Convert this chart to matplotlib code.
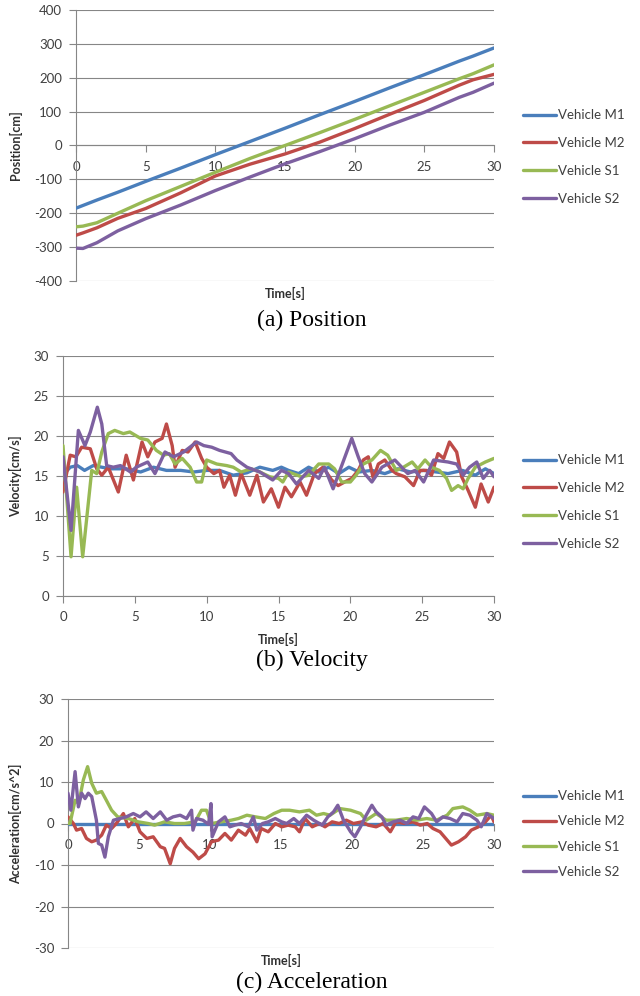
import matplotlib
matplotlib.use("Agg")
import matplotlib.pyplot as plt

plt.rcParams["axes.unicode_minus"] = False

# ---- data ----
names = ["Vehicle M1", "Vehicle M2", "Vehicle S1", "Vehicle S2"]
colors = ["#4a7ebb", "#be4b48", "#98b954", "#7d60a0"]

# (a) position [cm]
pos_t = [0, 0.5, 1.5, 3, 5, 7.5, 10, 12.5, 15, 17.5, 20, 22.5, 25, 27.5, 28.5, 30]
pos_m1 = [-185, -177, -161, -138, -106, -67, -27, 12, 51, 91, 130, 170, 209, 249, 264, 288]
pos_m2 = [-265, -258, -243, -215, -186, -140, -90, -55, -25, 10, 50, 92, 133, 178, 194, 210]
pos_s1 = [-240, -238, -228, -200, -163, -121, -79, -38, 0, 38, 77, 117, 157, 197, 212, 238]
pos_s2 = [-303, -304, -287, -252, -216, -176, -133, -93, -54, -18, 20, 60, 98, 142, 157, 184]

# (b) velocity [cm/s]
vel_m1_t = [0, 0.15, 0.5, 1.0, 1.5, 2.1, 3.3, 4.4, 5.4, 6.3,
            7.2, 8.2, 9.1, 10.0, 10.9, 11.85, 12.8, 13.7, 14.6, 15.2,
            15.7, 16.4, 17.1, 17.8, 18.5, 19.2, 19.9, 20.6, 21.5, 22.4,
            23.3, 24.2, 25.1, 26.0, 26.8, 27.8, 28.7, 29.4, 30]
vel_m1 = [17.4, 15.4, 16.1, 16.3, 15.7, 16.3, 15.9, 15.9, 15.5, 16.1,
          15.7, 15.7, 15.5, 15.7, 15.7, 15.1, 15.4, 16.1, 15.7, 16.1,
          15.7, 15.3, 16.1, 15.5, 16.1, 15.3, 16.1, 15.5, 15.7, 15.3,
          15.9, 15.5, 15.7, 15.5, 15.3, 15.7, 15.1, 15.9, 15.3]

vel_m2_t = [0, 0.5, 0.9, 1.3, 1.9, 2.35, 2.7, 3.15, 3.85, 4.4,
            4.9, 5.5, 5.9, 6.4, 6.9, 7.2, 7.6, 7.8, 8.3, 8.7,
            9.2, 9.65, 10.0, 10.5, 10.9, 11.2, 11.6, 12.0, 12.4, 13.0,
            13.5, 13.95, 14.5, 15.0, 15.45, 15.9, 16.5, 16.95, 17.5, 18.1,
            18.7, 19.15, 19.6, 20.1, 20.55, 20.9, 21.25, 21.6, 21.95, 22.4,
            22.9, 23.2, 23.8, 24.4, 24.85, 25.3, 25.65, 26.1, 26.5, 26.9,
            27.4, 27.75, 28.2, 28.7, 29.1, 29.6, 30]
vel_m2 = [13.0, 17.6, 17.4, 18.6, 18.4, 15.9, 15.1, 16.1, 13.0, 17.6,
          14.5, 19.25, 17.4, 19.25, 19.7, 21.5, 18.8, 16.1, 18.2, 18.0,
          19.25, 17.2, 16.1, 15.3, 15.7, 13.6, 15.1, 12.6, 15.3, 12.6,
          15.1, 11.75, 13.4, 11.1, 13.6, 12.4, 14.25, 12.6, 15.3, 16.1,
          14.5, 13.8, 14.25, 14.7, 15.7, 17.0, 17.4, 14.7, 16.5, 17.0,
          15.7, 15.3, 14.9, 13.8, 15.7, 15.7, 15.1, 17.8, 17.2, 19.25,
          18.0, 14.9, 13.2, 11.1, 14.0, 11.75, 13.6]

vel_s1_t = [0, 0.56, 0.95, 1.37, 2.0, 2.35, 2.7, 3.15, 3.6, 4.2,
            4.65, 5.4, 5.9, 6.5, 7.0, 7.4, 7.8, 8.3, 8.85, 9.3,
            9.65, 10.0, 10.7, 11.4, 11.85, 12.4, 13.1, 13.7, 14.4, 15.0,
            15.3, 15.7, 16.6, 17.1, 17.8, 18.5, 18.9, 19.4, 20.0, 20.4,
            20.9, 21.5, 22.1, 22.6, 23.2, 23.7, 24.3, 24.7, 25.2, 25.65,
            26.2, 26.7, 27.05, 27.5, 27.85, 28.2, 28.7, 29.4, 30]
vel_s1 = [18.8, 4.9, 13.6, 4.9, 15.7, 15.3, 18.0, 20.3, 20.7, 20.3,
          20.5, 19.7, 19.5, 18.2, 17.6, 17.8, 16.5, 17.2, 16.1, 14.25,
          14.25, 17.0, 16.5, 16.3, 16.1, 15.5, 15.9, 15.5, 14.9, 14.7,
          14.25, 15.5, 14.9, 15.1, 16.5, 16.5, 15.9, 14.25, 14.25, 15.1,
          16.5, 17.0, 18.2, 17.6, 15.7, 16.1, 16.75, 15.9, 17.0, 16.1,
          15.7, 14.7, 13.2, 13.8, 13.4, 14.7, 16.1, 16.75, 17.2]

vel_s2_t = [0, 0.56, 1.07, 1.53, 1.9, 2.39, 2.7, 3.04, 3.5, 4.0,
            4.7, 5.1, 5.9, 6.4, 7.1, 7.7, 8.4, 9.3, 9.8, 10.35,
            10.9, 11.7, 12.1, 12.8, 13.7, 14.6, 15.2, 15.7, 16.25, 17.1,
            17.8, 18.2, 18.8, 19.4, 20.1, 20.55, 21.0, 21.5, 22.2, 23.1,
            24.0, 24.5, 25.1, 25.8, 26.8, 27.4, 27.85, 28.3, 28.8, 29.25,
            29.7, 30]
vel_s2 = [17.4, 8.2, 20.7, 18.8, 20.5, 23.6, 21.5, 16.3, 16.1, 16.3,
          15.5, 16.1, 16.75, 15.3, 18.0, 17.4, 18.0, 19.25, 18.8, 18.6,
          18.2, 17.8, 17.0, 16.1, 15.5, 14.5, 15.7, 15.3, 14.0, 15.7,
          14.7, 16.1, 13.4, 16.3, 19.7, 17.4, 15.3, 14.25, 16.1, 17.0,
          15.3, 15.7, 14.25, 17.0, 16.75, 16.5, 15.1, 16.1, 16.75, 14.7,
          15.7, 14.9]

# (c) acceleration [cm/s^2]
acc_m1_t = [0, 30]
acc_m1 = [0, 0]

acc_m2_t = [0, 0.38, 0.6, 0.96, 1.3, 1.67, 2.0, 2.37, 2.7, 3.07,
            3.4, 3.9, 4.25, 4.7, 5.07, 5.55, 6.0, 6.5, 6.8, 7.2,
            7.5, 7.9, 8.35, 8.8, 9.2, 9.65, 10.1, 10.6, 11.05, 11.5,
            12.0, 12.5, 12.8, 13.3, 13.6, 14.1, 14.6, 15.05, 15.5, 16.0,
            16.3, 16.7, 17.2, 17.7, 18.1, 18.6, 19.1, 19.6, 20.1, 20.7,
            21.15, 21.7, 22.2, 22.7, 23.1, 23.7, 24.3, 24.8, 25.3, 25.7,
            26.2, 26.7, 27.0, 27.5, 28.0, 28.4, 28.9, 29.4, 29.8, 30]
acc_m2 = [1.6, 0, -1.6, -1.2, -3.6, -4.4, -4.0, -2.8, -0.4, -1.2,
          0, 2.4, -0.8, 1.2, -2.0, -3.6, -3.2, -5.6, -6.0, -9.7,
          -6.0, -3.6, -5.6, -6.9, -8.5, -7.3, -4.4, -4.0, -2.4, -4.0,
          -1.6, -2.8, -1.2, -4.4, -1.2, -2.0, 0, -0.8, -0.4, -0.8,
          -2.0, 1.2, -0.8, 0, -0.8, 0.4, 0, 0.8, 0, 0.4,
          -0.4, -0.8, 0, -2.0, 0.4, 0, 0.4, -0.4, 0, -1.2,
          -2.0, -4.0, -5.2, -4.4, -3.2, -1.6, -0.8, 0.4, 2.0, 0.4]

acc_s1_t = [0, 0.14, 0.5, 0.75, 1.08, 1.38, 1.67, 2.0, 2.37, 2.7,
            3.07, 3.5, 4.25, 4.95, 5.65, 6.1, 6.8, 7.5, 8.2, 8.95,
            9.4, 9.75, 10.1, 10.8, 11.5, 12.0, 12.6, 13.2, 13.9, 14.5,
            15.05, 15.6, 16.3, 17.0, 17.5, 18.0, 18.45, 19.15, 19.9, 20.6,
            21.0, 21.7, 22.4, 23.1, 23.85, 24.55, 25.26, 25.95, 26.7, 27.1,
            27.8, 28.3, 28.8, 29.5, 30]
acc_s1 = [0, 0, 5.6, 4.8, 10.5, 13.7, 9.7, 7.3, 7.7, 5.6,
          3.2, 1.6, 1.2, 0.4, 0, -0.4, 0.4, 0, 0, 0.4,
          3.2, 3.2, 0, 0.4, 0.8, 1.2, 2.0, 1.6, 1.2, 2.4,
          3.2, 3.2, 2.8, 3.2, 2.0, 2.4, 2.0, 3.6, 3.2, 2.4,
          0.8, 2.4, 0.8, 0.8, 1.2, 0.8, 1.2, 0.8, 2.0, 3.6,
          4.0, 3.2, 2.0, 2.4, 2.0]

acc_s2_t = [0, 0.2, 0.5, 0.73, 0.96, 1.2, 1.43, 1.67, 2.0, 2.14,
            2.37, 2.6, 2.84, 3.2, 3.66, 4.1, 4.6, 5.07, 5.5, 6.0,
            6.5, 6.95, 7.4, 7.9, 8.35, 8.7, 8.8, 9.05, 9.5, 9.9,
            10.07, 10.15, 10.6, 11.05, 11.4, 11.75, 12.2, 12.7, 13.05, 13.3,
            13.7, 14.1, 14.6, 15.05, 15.4, 15.9, 16.3, 16.8, 17.3, 17.9,
            18.3, 18.7, 19.0, 19.4, 19.9, 20.2, 20.6, 21.0, 21.4, 21.7,
            22.1, 22.4, 22.9, 23.4, 23.85, 24.3, 24.7, 25.1, 25.6, 25.96,
            26.4, 26.9, 27.4, 27.8, 28.3, 28.8, 29.1, 29.5, 30]
acc_s2 = [7.3, 3.2, 12.5, 4.0, 7.3, 6.0, 7.3, 6.5, 0.8, -4.8,
          -5.2, -8.1, -3.2, 0.8, 1.2, 1.6, 2.4, 1.6, 2.8, 1.2,
          2.8, 0.8, 1.6, 2.0, 1.2, 3.2, -1.6, 1.2, 0.8, -0.2,
          4.8, -3.2, 0.4, 1.6, -0.8, -0.4, 0, -0.8, 1.6, -1.6,
          0, 0.4, 1.2, 0.4, 0, 1.2, 0, 2.0, 0.8, -0.4,
          1.6, 2.8, 4.4, 0.8, -2.0, -3.2, -0.8, 2.0, 4.4, 2.8,
          1.6, -0.4, 0.4, 0.8, 0, 1.6, 1.2, 4.0, 2.4, 0.4,
          1.6, 1.2, 0.4, 2.4, 2.0, 0.8, -0.8, 2.4, 1.2]

x_ticks = [0, 5, 10, 15, 20, 25, 30]

panels = [
    {"series": [(pos_t, pos_m1), (pos_t, pos_m2), (pos_t, pos_s1), (pos_t, pos_s2)],
     "ylim": (-400, 400), "yticks": range(-400, 401, 100), "ylabel": "Position[cm]",
     "caption": "(a) Position", "zero_axis": True},
    {"series": [(vel_m1_t, vel_m1), (vel_m2_t, vel_m2), (vel_s1_t, vel_s1), (vel_s2_t, vel_s2)],
     "ylim": (0, 30), "yticks": range(0, 31, 5), "ylabel": "Velocity[cm/s]",
     "caption": "(b) Velocity", "zero_axis": False},
    {"series": [(acc_m1_t, acc_m1), (acc_m2_t, acc_m2), (acc_s1_t, acc_s1), (acc_s2_t, acc_s2)],
     "ylim": (-30, 30), "yticks": range(-30, 31, 10), "ylabel": "Acceleration[cm/s^2]",
     "caption": "(c) Acceleration", "zero_axis": True},
]

# axes boxes in pixels: left, right, top, bottom ; plus label offsets
W, H = 640, 996
boxes = [(76, 494, 10, 281), (63, 494, 356, 596), (68, 494, 699, 948)]
caption_y = [320, 660, 982]
xlabel_y = [293, 639, 960]
legend_mid = [157, 502, 834]
legend_space = [1.2, 1.2, 1.0]

grey = "#868686"
txt = "#404040"
tick_font = "Lato"

fig = plt.figure(figsize=(W / 100, H / 100), dpi=100)
fig.patch.set_facecolor("white")

for i, p in enumerate(panels):
    l, r, t, b = boxes[i]
    ax = fig.add_axes([l / W, 1 - b / H, (r - l) / W, (b - t) / H])
    lines = []
    for (xs, ys), c in zip(p["series"], colors):
        ln, = ax.plot(xs, ys, color=c, lw=2.4, solid_capstyle="round",
                      solid_joinstyle="round", zorder=3)
        lines.append(ln)

    ax.set_xlim(0, 30)
    ax.set_ylim(*p["ylim"])
    ax.set_xticks(x_ticks)
    ax.set_yticks(list(p["yticks"]))
    ax.yaxis.grid(True, color=grey, lw=0.8)
    ax.set_axisbelow(True)

    for s in ["top", "right"]:
        ax.spines[s].set_visible(False)
    for s in ["left", "bottom"]:
        ax.spines[s].set_color(grey)
        ax.spines[s].set_linewidth(0.8)
    if p["zero_axis"]:
        ax.spines["bottom"].set_position(("data", 0))

    ax.tick_params(axis="both", length=5, width=0.8, color=grey,
                   labelsize=9.5, labelcolor=txt)
    ax.tick_params(axis="y", pad=5)
    ax.tick_params(axis="x", pad=6)
    for lab in ax.get_xticklabels() + ax.get_yticklabels():
        lab.set_fontfamily(tick_font)

    ax.set_ylabel(p["ylabel"], fontsize=9, fontweight="bold", color="#303030",
                  fontfamily=tick_font)
    ax.yaxis.set_label_coords((22 - l) / (r - l), 0.5)

    fig.text((l + r) / 2 / W, 1 - xlabel_y[i] / H, "Time[s]", ha="center",
             va="center", fontsize=9, fontweight="bold", color="#303030",
             fontfamily=tick_font)
    fig.text(312 / W, 1 - caption_y[i] / H, p["caption"], ha="center",
             va="center", fontsize=17, fontfamily="Liberation Serif")

    ax.legend(lines, names, loc="center left",
              bbox_to_anchor=((523 - l) / (r - l), (b - legend_mid[i]) / (b - t)),
              frameon=False, borderpad=0, borderaxespad=0, handlelength=2.5,
              handletextpad=0.15, labelspacing=legend_space[i],
              prop={"family": tick_font, "size": 9.5}, labelcolor=txt)

fig.savefig("out.png", dpi=100, facecolor="white")
